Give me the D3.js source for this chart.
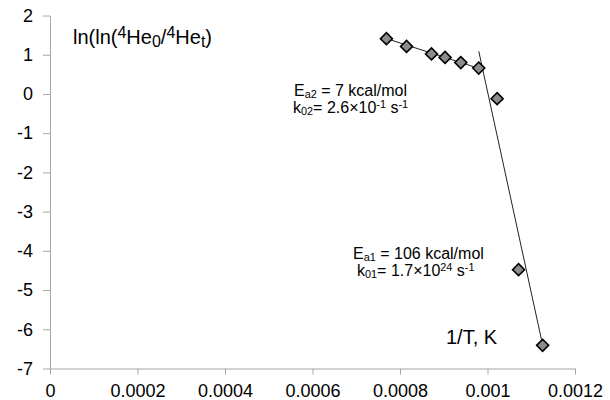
<!DOCTYPE html>
<html lang="en">
<head>
  <meta charset="UTF-8">
  <title>Arrhenius plot</title>
  <script src="https://d3js.org/d3.v7.min.js"></script>
  <style>
    body { margin: 0; background: #fff; font-family: "Liberation Sans", Arial, sans-serif; }
    .axis path, .axis line { stroke: #a6a6a6; stroke-width: 1px; }
    .axis text { font-size: 18px; fill: #000; font-family: "Liberation Sans", Arial, sans-serif; }
    .fit { fill: none; stroke: #222; stroke-width: 1px; }
    .note { font-size: 16px; fill: #000; }
  </style>
</head>
<body>
  <svg id="chart" width="610" height="400"></svg>

  <script>
    // measured points: 1/T (1/K) and ln(ln(4He0/4Het))
    const invT = [0.000769, 0.000815, 0.000872, 0.000903, 0.000939, 0.000980, 0.001022, 0.001071, 0.001126];
    const lnln = [1.41, 1.21, 1.02, 0.93, 0.80, 0.66, -0.12, -4.48, -6.41];

    // straight-line fits (end points)
    const fitLowX = [0.000764, 0.000989];
    const fitLowY = [1.43, 0.62];
    const fitHighX = [0.000980, 0.001126];
    const fitHighY = [1.09, -6.40];

    const xTicks = [0, 0.0002, 0.0004, 0.0006, 0.0008, 0.001, 0.0012];
    const xTickLabels = ["0", "0.0002", "0.0004", "0.0006", "0.0008", "0.001", "0.0012"];
    const yTicks = [-7, -6, -5, -4, -3, -2, -1, 0, 1, 2];

    const svg = d3.select("#chart");

    const x = d3.scaleLinear().domain([0, 0.0012]).range([50, 575]);
    const y = d3.scaleLinear().domain([-7, 2]).range([368.5, 15.5]);

    // axes
    svg.append("g")
      .attr("class", "axis")
      .attr("transform", `translate(0,${y(-7)})`)
      .call(d3.axisBottom(x)
        .tickValues(xTicks)
        .tickFormat((d, i) => xTickLabels[i])
        .tickSize(6)
        .tickSizeOuter(0)
        .tickPadding(10));

    svg.append("g")
      .attr("class", "axis")
      .attr("transform", `translate(${x(0)},0)`)
      .call(d3.axisLeft(y)
        .tickValues(yTicks)
        .tickFormat(d => String(d))   // plain hyphen, as in the original
        .tickSize(7)
        .tickSizeOuter(0)
        .tickPadding(10));

    // fit lines
    const line = d3.line().x(d => x(d[0])).y(d => y(d[1]));
    svg.append("path").attr("class", "fit")
      .attr("d", line(d3.zip(fitLowX, fitLowY)));
    svg.append("path").attr("class", "fit")
      .attr("d", line(d3.zip(fitHighX, fitHighY)));

    // diamond markers
    const diamond = d3.symbol().type(d3.symbolSquare).size(72);
    svg.selectAll(".pt")
      .data(d3.zip(invT, lnln))
      .enter()
      .append("path")
      .attr("class", "pt")
      .attr("d", diamond)
      .attr("transform", d => `translate(${x(d[0])},${y(d[1])}) rotate(45)`)
      .attr("fill", "#8c8c8c")
      .attr("stroke", "#000")
      .attr("stroke-width", 1.6);

    // helper for rich text with sub/superscripts
    function rich(sel, parts, scale, subShift, supShift) {
      parts.forEach(p => {
        const t = sel.append("tspan").text(p.t);
        if (p.sub) t.attr("font-size", scale + "em").attr("baseline-shift", subShift);
        if (p.sup) t.attr("font-size", scale + "em").attr("baseline-shift", supShift);
      });
    }

    // y-axis title
    const yt = svg.append("text").attr("x", 73).attr("y", 44).attr("font-size", 20);
    rich(yt, [
      { t: "ln(ln(" }, { t: "4", sup: true }, { t: "He" }, { t: "0", sub: true },
      { t: "/" }, { t: "4", sup: true }, { t: "He" }, { t: "t", sub: true }, { t: ")" }
    ], 0.8, -3, 6);

    // x-axis title
    svg.append("text").attr("x", 446).attr("y", 344).attr("font-size", 20).text("1/T, K");

    // annotations
    const a2 = svg.append("text").attr("class", "note").attr("x", 294).attr("y", 96);
    rich(a2, [{ t: "E" }, { t: "a2", sub: true }, { t: " = 7 kcal/mol" }], 0.68, -2, 5);
    const k2 = svg.append("text").attr("class", "note").attr("x", 293).attr("y", 113);
    rich(k2, [{ t: "k" }, { t: "02", sub: true }, { t: "= 2.6×10" }, { t: "-1", sup: true },
              { t: " s" }, { t: "-1", sup: true }], 0.68, -2, 5);

    const a1 = svg.append("text").attr("class", "note").attr("x", 353).attr("y", 259);
    rich(a1, [{ t: "E" }, { t: "a1", sub: true }, { t: " = 106 kcal/mol" }], 0.68, -2, 5);
    const k1 = svg.append("text").attr("class", "note").attr("x", 357).attr("y", 276);
    rich(k1, [{ t: "k" }, { t: "01", sub: true }, { t: "= 1.7×10" }, { t: "24", sup: true },
              { t: " s" }, { t: "-1", sup: true }], 0.68, -2, 5);
  </script>
</body>
</html>
